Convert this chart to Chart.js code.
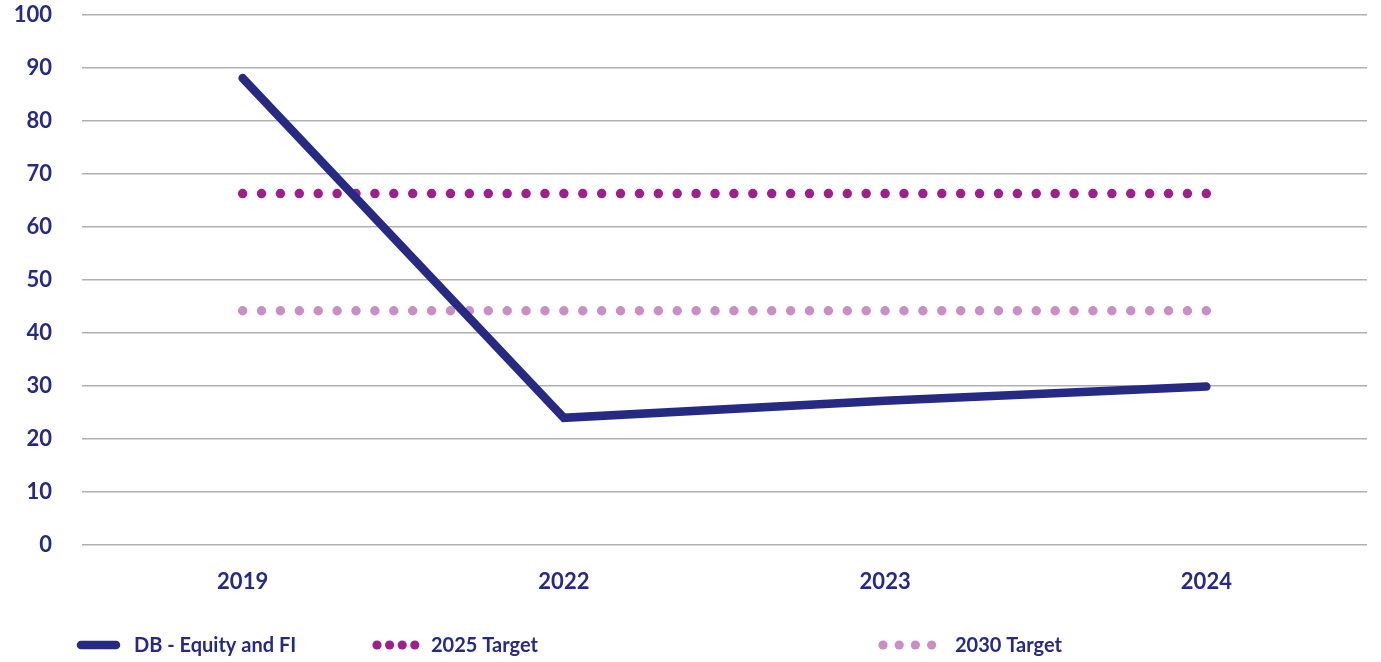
<!DOCTYPE html>
<html>
<head>
<meta charset="utf-8">
<script src="https://cdn.jsdelivr.net/npm/chart.js@4.4.1/dist/chart.umd.min.js"></script>
<style>
  html, body { margin: 0; padding: 0; background: #ffffff; }
  #wrap { position: relative; width: 1381px; height: 662px; }
</style>
</head>
<body>
<div id="wrap"><canvas id="pathwayChart"></canvas></div>
<script>
// Chart data
const years = ['2019', '2022', '2023', '2024'];
const dbEquityFi = [88.1, 24.0, 27.2, 29.9];
const target2025 = [66.3, 66.3, 66.3, 66.3];
const target2030 = [44.2, 44.2, 44.2, 44.2];
const yTickValues = [0, 10, 20, 30, 40, 50, 60, 70, 80, 90, 100];

const seriesLabels = ['DB - Equity and FI', '2025 Target', '2030 Target'];
const seriesColors = ['#262a82', '#9c2189', '#c98ec3'];

const textColor = '#262a82';
const fontFamily = 'Lato, "Open Sans", "DejaVu Sans", sans-serif';
const dotGap = 18.9;

/**
 * Stretch the dot spacing a touch so the last dot sits on the last category
 */
const fitDots = {
  id: 'fitDots',
  afterLayout(chart) {
    const x = chart.scales.x;
    const len = x.getPixelForValue(years.length - 1) - x.getPixelForValue(0);
    const n = Math.max(1, Math.round(len / dotGap));
    chart.data.datasets.forEach(ds => {
      if (ds.borderDash && ds.borderDash.length) {
        ds.borderDash = [0, len / n - 0.001];
      }
    });
  }
};

/**
 * Legend drawn by hand so the dotted samples look like the chart lines
 */
const bottomLegend = {
  id: 'bottomLegend',
  afterDraw(chart) {
    const ctx = chart.ctx;
    const items = [
      { x: 77, gap: 0, textX: 134 },
      { x: 377, gap: 12.6, textX: 431 },
      { x: 883, gap: 16.2, textX: 955 }
    ];
    const y = 645;
    ctx.save();
    chart.data.datasets.forEach((ds, i) => {
      const it = items[i];
      ctx.strokeStyle = ds.borderColor;
      ctx.fillStyle = ds.borderColor;
      if (!ds.borderDash || ds.borderDash.length === 0) {
        ctx.lineWidth = 8.5;
        ctx.lineCap = 'round';
        ctx.beginPath();
        ctx.moveTo(it.x + 4, y);
        ctx.lineTo(it.x + 39, y);
        ctx.stroke();
      } else {
        for (let d = 0; d < 4; d++) {
          ctx.beginPath();
          ctx.arc(it.x + d * it.gap, y, 4.6, 0, Math.PI * 2);
          ctx.fill();
        }
      }
      ctx.fillStyle = textColor;
      ctx.font = 'bold 20px ' + fontFamily;
      ctx.textAlign = 'left';
      ctx.textBaseline = 'middle';
      ctx.fillText(ds.label, it.textX, y + 1);
    });
    ctx.restore();
  }
};

function initPathwayChart() {
  const canvas = document.getElementById('pathwayChart');

  new Chart(canvas, {
    type: 'line',
    data: {
      labels: years,
      datasets: [{
        label: seriesLabels[0],
        data: dbEquityFi,
        borderColor: seriesColors[0],
        borderWidth: 8.5,
        borderCapStyle: 'round',
        borderJoinStyle: 'miter',
        pointRadius: 0,
        tension: 0,
        order: 0
      }, {
        label: seriesLabels[1],
        data: target2025,
        borderColor: seriesColors[1],
        borderWidth: 9.5,
        borderDash: [0, dotGap],
        borderCapStyle: 'round',
        pointRadius: 0,
        order: 1
      }, {
        label: seriesLabels[2],
        data: target2030,
        borderColor: seriesColors[2],
        borderWidth: 9.5,
        borderDash: [0, dotGap],
        borderCapStyle: 'round',
        pointRadius: 0,
        order: 2
      }]
    },
    options: {
      responsive: true,
      maintainAspectRatio: false,
      animation: false,
      layout: {
        padding: { left: 0, right: 14, top: 15, bottom: 67 }
      },
      plugins: {
        legend: { display: false },
        tooltip: { enabled: false }
      },
      scales: {
        x: {
          offset: true,
          grid: { display: false, drawTicks: false },
          border: { display: false },
          ticks: {
            color: textColor,
            padding: 24,
            font: { family: fontFamily, size: 22, weight: 'bold' }
          },
          afterFit(scale) { scale.height = 50; }
        },
        y: {
          min: 0,
          max: 100,
          afterBuildTicks(scale) {
            scale.ticks = yTickValues.map(v => ({ value: v }));
          },
          grid: { color: '#b0b0b0', lineWidth: 1.4, drawTicks: false },
          border: { display: false },
          ticks: {
            color: textColor,
            padding: 30,
            font: { family: fontFamily, size: 22, weight: 'bold' }
          },
          afterFit(scale) {
            // tick padding is horizontal here, don't let it push the plot down
            scale.width = 82;
            scale.paddingTop = 0;
            scale.paddingBottom = 0;
          }
        }
      }
    },
    plugins: [fitDots, bottomLegend]
  });
}

initPathwayChart();
</script>
</body>
</html>
